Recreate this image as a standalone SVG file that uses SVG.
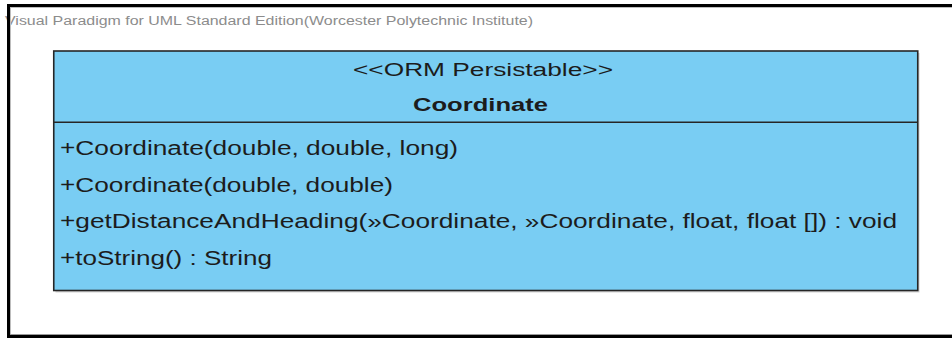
<svg xmlns="http://www.w3.org/2000/svg" width="952" height="338" viewBox="0 0 952 338">
  <style>
    .t { font-family: "Liberation Sans", Arial, sans-serif; fill: #1c1c1c; }
    .op { font-size: 20px; }
    .hdr { font-size: 18px; }
    .b { font-weight: bold; }
    .wm { font-family: "Liberation Sans", Arial, sans-serif; font-size: 12px; fill: #8c8c8c; }
  </style>
  <rect x="0" y="0" width="952" height="338" fill="#ffffff"/>
  <g id="watermark">
    <text class="wm" x="5" y="25" textLength="528" lengthAdjust="spacingAndGlyphs">Visual Paradigm for UML Standard Edition(Worcester Polytechnic Institute)</text>
  </g>
  <g id="frame">
    <rect x="7" y="7" width="945" height="1" fill="#bdbdbd"/>
    <rect x="10" y="7" width="1" height="327" fill="#bdbdbd"/>
    <rect x="10" y="334" width="942" height="1" fill="#9a9a9a"/>
    <rect x="7" y="4" width="945" height="3" fill="#000000"/>
    <rect x="7" y="4" width="3" height="334" fill="#000000"/>
    <rect x="7" y="335" width="945" height="3" fill="#000000"/>
  </g>
  <g id="connectors"></g>
  <g id="Coordinate">
    <rect x="55.5" y="53" width="864" height="239.5" fill="#d4d4d4"/>
    <rect x="53.75" y="51" width="864" height="239.5" fill="#79cdf3" stroke="#262626" stroke-width="1.6"/>
    <line x1="53.75" y1="122.3" x2="917.75" y2="122.3" stroke="#262626" stroke-width="1.6"/>
    <text class="t hdr" x="353" y="76" textLength="260" lengthAdjust="spacingAndGlyphs">&lt;&lt;ORM Persistable&gt;&gt;</text>
    <text class="t hdr b" x="413" y="111" textLength="135" lengthAdjust="spacingAndGlyphs">Coordinate</text>
    <text class="t op" x="60" y="155" textLength="398" lengthAdjust="spacingAndGlyphs">+Coordinate(double, double, long)</text>
    <text class="t op" x="60" y="191.5" textLength="333" lengthAdjust="spacingAndGlyphs">+Coordinate(double, double)</text>
    <text class="t op" x="60" y="228" textLength="837" lengthAdjust="spacingAndGlyphs">+getDistanceAndHeading(»Coordinate, »Coordinate, float, float []) : void</text>
    <text class="t op" x="60" y="264.5" textLength="212" lengthAdjust="spacingAndGlyphs">+toString() : String</text>
  </g>
</svg>
